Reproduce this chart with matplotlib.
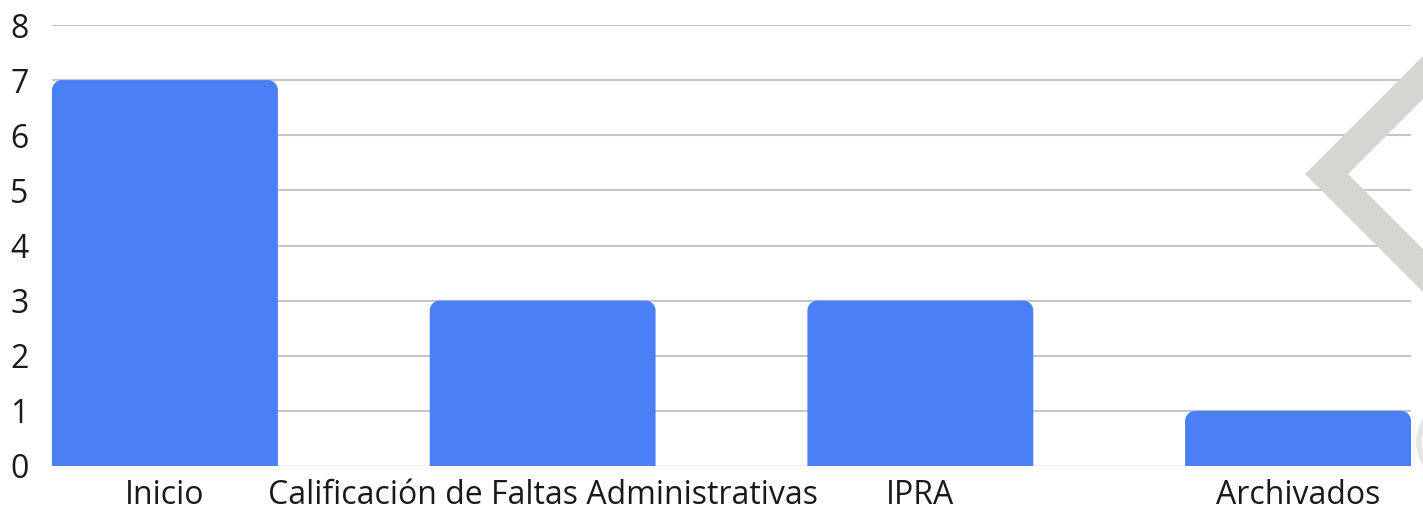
import matplotlib
matplotlib.use("Agg")
import matplotlib.pyplot as plt
import numpy as np
from matplotlib.patches import Polygon, Arc

categories = ["Inicio", "Calificación de Faltas Administrativas", "IPRA", "Archivados"]
values = [7, 3, 3, 1]
y_ticks = [0, 1, 2, 3, 4, 5, 6, 7, 8]

BAR_COLOR = "#4a7ff5"
W, H = 1423, 508

plt.rcParams['font.family'] = ['Open Sans', 'DejaVu Sans']

fig = plt.figure(figsize=(W / 100, H / 100), dpi=100)
ax = fig.add_axes([52 / W, (H - 466) / H, (1411 - 52) / W, (466 - 25) / H])

width = 0.598
x = np.arange(len(categories))
ax.set_xlim(-width / 2, len(categories) - 1 + width / 2)
ax.set_ylim(0, 8)

# rounded tops: radius in pixels converted to data units
r_px = 10
x_per_px = (ax.get_xlim()[1] - ax.get_xlim()[0]) / (1411 - 52)
y_per_px = 8 / (466 - 25)
rx, ry = r_px * x_per_px, r_px * y_per_px
th = np.linspace(0, np.pi / 2, 12)

bars = ax.bar(x, values, width=width, color=BAR_COLOR, zorder=3)
for b in bars:
    bx, bw, bh = b.get_x(), b.get_width(), b.get_height()
    b.remove()
    left = [(bx + rx - rx * np.cos(t), bh - ry + ry * np.sin(t)) for t in th]
    right = [(bx + bw - rx + rx * np.sin(t), bh - ry + ry * np.cos(t)) for t in th]
    pts = [(bx, 0)] + left + right + [(bx + bw, 0)]
    ax.add_patch(Polygon(pts, closed=True, fc=BAR_COLOR, ec="none", zorder=3))

ax.set_yticks(y_ticks)
ax.set_xticks(x)
ax.set_xticklabels(categories)
ax.tick_params(axis="both", length=0, labelsize=23, colors="#1a1a1a")
ax.tick_params(axis="y", pad=17)
ax.tick_params(axis="x", pad=9)
for t in y_ticks[1:]:
    ax.axhline(t, color="#c6c6c6", lw=1.5, zorder=1)
ax.axhline(0, color="#eeeeee", lw=1.5, zorder=1)
for s in ax.spines.values():
    s.set_visible(False)

# watermark in the right corner (pixel coords measured from the top)
chev = [(1423, 56), (1305, 174), (1423, 292), (1423, 249), (1348, 174), (1423, 99)]
fig.add_artist(Polygon([(px, H - py) for px, py in chev], closed=True,
                       fc="#d6d5d2", ec="none", transform=None, zorder=5))
fig.add_artist(Arc((1462, H - 442), 86, 86, theta1=140, theta2=220, color="#e6e6e6", lw=4,
                   transform=None, zorder=5))

fig.savefig("out.png", dpi=100)
